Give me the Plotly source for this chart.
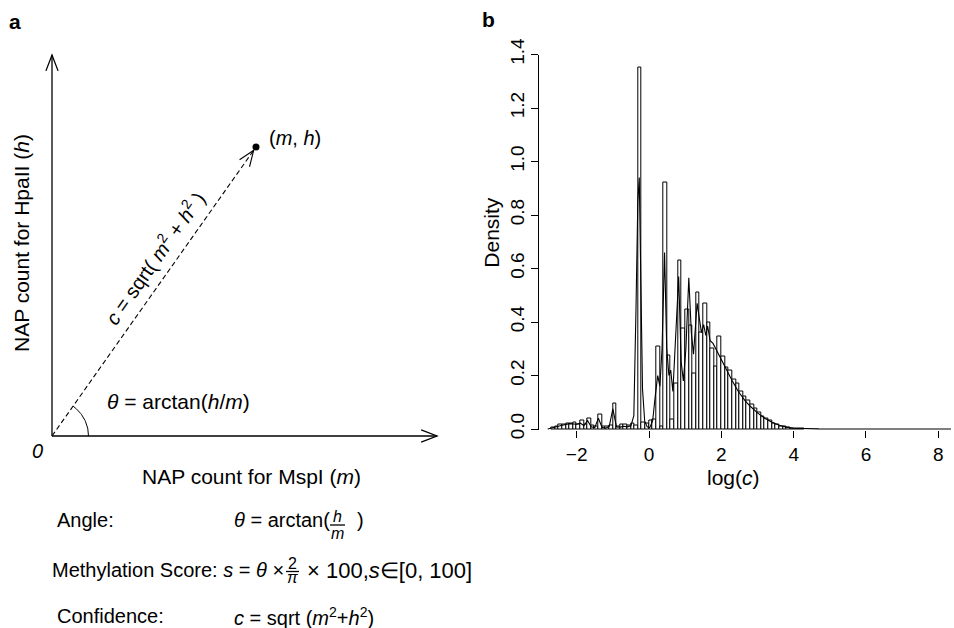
import numpy as np
import plotly.graph_objects as go

FONT = "Liberation Sans, Arial, Helvetica, sans-serif"
W, H = 954, 628

# ---------------- Panel b data: histogram of log(c) ----------------
bin_start = -2.7
bin_width = 0.1
hist_density = [
    0.005, 0.010, 0.015, 0.018, 0.020, 0.020, 0.025, 0.018, 0.030, 0.018,
    0.040, 0.012, 0.010, 0.055, 0.010, 0.008, 0.012, 0.095, 0.010, 0.015,
    0.015, 0.012, 0.020, 0.012,
    1.350, 0.025, 0.020, 0.030, 0.035, 0.310, 0.010, 0.920, 0.275, 0.034,
    0.170, 0.630, 0.375,
    0.446, 0.387, 0.206, 0.510, 0.360, 0.470, 0.400, 0.300, 0.234, 0.346,
    0.270, 0.230, 0.220, 0.184, 0.170, 0.140, 0.120, 0.105, 0.090, 0.075,
    0.060, 0.048, 0.038, 0.030, 0.022, 0.016, 0.011, 0.008, 0.005, 0.003,
    0.002, 0.001, 0.001,
]
bin_centers = [bin_start + bin_width * (i + 0.5) for i in range(len(hist_density))]

# kernel density curve
dens_x = [-2.8, -2.6, -2.4, -2.2, -2.0, -1.9, -1.8, -1.7, -1.6, -1.5, -1.4, -1.3,
          -1.2, -1.1, -1.0, -0.9, -0.8, -0.7, -0.6, -0.5, -0.42, -0.36, -0.31,
          -0.27, -0.23, -0.18, -0.12, -0.05, 0.02, 0.1, 0.17, 0.24, 0.3, 0.36,
          0.43, 0.49, 0.55, 0.6, 0.66, 0.73, 0.82, 0.89, 0.95, 1.02, 1.1, 1.17,
          1.23, 1.33, 1.45, 1.51, 1.57, 1.62, 1.69, 1.77, 1.88, 2.0, 2.15, 2.3,
          2.47, 2.66, 2.8, 3.0, 3.2, 3.4, 3.6, 3.8, 4.0, 4.3, 4.7, 5.5, 8.35]
dens_y = [0.0, 0.008, 0.014, 0.02, 0.018, 0.022, 0.012, 0.032, 0.008, 0.005, 0.04,
          0.006, 0.003, 0.01, 0.075, 0.008, 0.007, 0.01, 0.008, 0.012, 0.05, 0.45,
          0.85, 0.94, 0.6, 0.15, 0.03, 0.008, 0.005, 0.03, 0.12, 0.20, 0.16, 0.30,
          0.66, 0.30, 0.20, 0.22, 0.14, 0.32, 0.57, 0.25, 0.18, 0.30, 0.565, 0.36,
          0.28, 0.47, 0.36, 0.39, 0.35, 0.385, 0.33, 0.32, 0.29, 0.26, 0.22, 0.18,
          0.14, 0.105, 0.085, 0.06, 0.04, 0.025, 0.014, 0.007, 0.003, 0.001,
          0.0003, 0.0, 0.0]

x_ticks = [-2, 0, 2, 4, 6, 8]
x_ticklabels = ["−2", "0", "2", "4", "6", "8"]
y_ticks = [0.0, 0.2, 0.4, 0.6, 0.8, 1.0, 1.2, 1.4]
y_ticklabels = ["0.0", "0.2", "0.4", "0.6", "0.8", "1.0", "1.2", "1.4"]

# ---------------- Panel a diagram geometry ----------------
M_VAL, H_VAL = 204, 289          # the point (m, h)
X_AXIS_LEN, Y_AXIS_LEN = 385, 381
ARC_R = 36.5
HEAD_LEN, HEAD_HALF_ANGLE = 17, np.radians(21)

PA_WIDTH = 505                   # pixel width of panel a area
ORIGIN_PX = (52, 436)            # origin of the diagram in pixels


def ppx(x):
    return x / W


def ppy(y):
    return 1 - y / H


def head_path(tip, direction):
    d = np.array(direction, float)
    d = d / np.linalg.norm(d)
    pts = []
    for s in (1, -1):
        a = s * HEAD_HALF_ANGLE
        r = np.array([[np.cos(a), -np.sin(a)], [np.sin(a), np.cos(a)]])
        back = -(r @ d) * HEAD_LEN
        pts.append(np.array(tip) + back)
    return "M {:.2f} {:.2f} L {:.2f} {:.2f} L {:.2f} {:.2f}".format(
        pts[0][0], pts[0][1], tip[0], tip[1], pts[1][0], pts[1][1])


fig = go.Figure()

# ---- panel b traces
fig.add_trace(go.Bar(x=bin_centers, y=hist_density, width=bin_width,
                     marker=dict(color="white", line=dict(color="black", width=1)),
                     xaxis="x", yaxis="y", hoverinfo="skip"))
fig.add_trace(go.Scatter(x=dens_x, y=dens_y, mode="lines",
                         line=dict(color="black", width=1.1),
                         xaxis="x", yaxis="y", hoverinfo="skip"))

# ---- panel a traces
theta = np.arctan2(H_VAL, M_VAL)
arc_t = np.linspace(0, theta, 40)
fig.add_trace(go.Scatter(x=ARC_R * np.cos(arc_t), y=ARC_R * np.sin(arc_t), mode="lines",
                         line=dict(color="black", width=1), xaxis="x2", yaxis="y2",
                         hoverinfo="skip"))
fig.add_trace(go.Scatter(x=[M_VAL], y=[H_VAL], mode="markers",
                         marker=dict(color="black", size=7), xaxis="x2", yaxis="y2",
                         hoverinfo="skip"))

shapes = []
shapes.append(dict(type="line", xref="x2", yref="y2", x0=0, y0=0, x1=0, y1=Y_AXIS_LEN,
                   line=dict(color="black", width=1.3)))
shapes.append(dict(type="path", xref="x2", yref="y2",
                   path=head_path((0, Y_AXIS_LEN), (0, 1)), line=dict(color="black", width=1.3)))
shapes.append(dict(type="line", xref="x2", yref="y2", x0=0, y0=0, x1=X_AXIS_LEN, y1=0,
                   line=dict(color="black", width=1.3)))
shapes.append(dict(type="path", xref="x2", yref="y2",
                   path=head_path((X_AXIS_LEN, 0), (1, 0)), line=dict(color="black", width=1.3)))
u = np.array([M_VAL, H_VAL], float) / np.hypot(M_VAL, H_VAL)
tip = np.array([M_VAL, H_VAL]) - 4 * u
shapes.append(dict(type="line", xref="x2", yref="y2", x0=0, y0=0, x1=tip[0], y1=tip[1],
                   line=dict(color="black", width=1.1, dash="5px,3px")))
shapes.append(dict(type="path", xref="x2", yref="y2",
                   path=head_path(tuple(tip), tuple(u)), line=dict(color="black", width=1.1)))

# fraction bars
shapes.append(dict(type="line", xref="x2", yref="y2", x0=278, y0=-89, x1=293, y1=-89,
                   line=dict(color="black", width=1.3)))
shapes.append(dict(type="line", xref="x2", yref="y2", x0=234, y0=-135.5, x1=247, y1=-135.5,
                   line=dict(color="black", width=1.3)))

ann = []


def a2(x, y, text, size=20, xanchor="left", angle=0, yanchor="middle"):
    ann.append(dict(x=x, y=y, xref="x2", yref="y2", text=text, showarrow=False,
                    xanchor=xanchor, yanchor=yanchor, textangle=angle,
                    font=dict(family=FONT, size=size, color="black")))


def ap(x, y, text, size=20, xanchor="center", angle=0):
    ann.append(dict(x=ppx(x), y=ppy(y), xref="paper", yref="paper", text=text,
                    showarrow=False, xanchor=xanchor, yanchor="middle", textangle=angle,
                    font=dict(family=FONT, size=size, color="black")))


a2(-37, 415, "<b>a</b>", size=21, xanchor="center")
a2(215, 298, "(<i>m</i>, <i>h</i>)", size=20)
a2(-31, 193, "NAP count for HpaII (<i>h</i>)", size=21, xanchor="center", angle=-90)
a2(199, -40, "NAP count for MspI (<i>m</i>)", size=21, xanchor="center")
a2(-15, -15, "<i>0</i>", size=20, xanchor="center")
a2(53, 35, "<i>θ</i> = arctan(<i>h</i>/<i>m</i>)", size=21)
a2(101.5, 179, "<i>c</i> = sqrt( <i>m</i><sup>2</sup> + <i>h</i><sup>2</sup> )", size=20,
   xanchor="center", angle=-np.degrees(theta))

# formulas
a2(3, -84, "Angle:", size=20)
a2(180, -84, "<i>θ</i> = arctan(", size=20)
a2(285.5, -80.5, "<i>h</i>", size=16, xanchor="center")
a2(285.5, -97, "<i>m</i>", size=16, xanchor="center")
a2(303, -84, ")", size=20)
a2(-2, -134, "Methylation Score: <i>s</i> = <i>θ</i> ×", size=20)
a2(240.5, -127.5, "2", size=16, xanchor="center")
a2(240.5, -141, "<i>π</i>", size=16, xanchor="center")
a2(253, -134, "× 100,<i>s</i>∈[0, 100]", size=22, xanchor="left")
a2(3, -180, "Confidence:", size=20)
a2(180, -180, "<i>c</i> = sqrt (<i>m</i><sup>2</sup>+<i>h</i><sup>2</sup>)", size=20)

# panel b labels
ap(488, 19, "<b>b</b>", size=21)
ap(491.7, 232, "Density", size=21, angle=-90)
ap(733, 477, "log(<i>c</i>)", size=21)

# layout geometry (pixels)
PB_LEFT, PB_RIGHT = 539.3, 954
PB_TOP, PB_BOTTOM = 54.5, 430
X0_PX, X8_PX = 576.7, 938.3
pxu = (X8_PX - X0_PX) / 10.0
xr = [-2 - (X0_PX - PB_LEFT) / pxu, 8 + (PB_RIGHT - X8_PX) / pxu]

fig.update_layout(
    width=W, height=H,
    margin=dict(l=0, r=0, t=0, b=0, pad=0, autoexpand=False),
    autosize=False,
    plot_bgcolor="white", paper_bgcolor="white", showlegend=False, bargap=0,
    font=dict(family=FONT, color="black"),
    xaxis=dict(domain=[PB_LEFT / W, PB_RIGHT / W], range=xr, anchor="y",
               automargin=False,
               showgrid=False, zeroline=False, showline=False,
               ticks="outside", ticklen=7, tickwidth=1, tickcolor="black",
               tickvals=x_ticks, ticktext=x_ticklabels,
               tickfont=dict(family=FONT, size=19, color="black")),
    yaxis=dict(domain=[1 - PB_BOTTOM / H, 1 - PB_TOP / H], range=[-0.00375, 1.4],
               anchor="x", automargin=False, showgrid=False, zeroline=False, showline=True,
               linecolor="black", linewidth=1,
               ticks="outside", ticklen=7, tickwidth=1, tickcolor="black",
               tickvals=y_ticks, ticktext=y_ticklabels, tickangle=-90,
               tickfont=dict(family=FONT, size=19, color="black")),
    xaxis2=dict(domain=[0, PA_WIDTH / W], range=[-ORIGIN_PX[0], PA_WIDTH - ORIGIN_PX[0]],
                visible=False, anchor="y2", automargin=False, fixedrange=True),
    yaxis2=dict(domain=[0, 1], range=[-(H - ORIGIN_PX[1]), ORIGIN_PX[1]], visible=False,
                anchor="x2", automargin=False, fixedrange=True),
    shapes=shapes, annotations=ann,
)

fig.write_html("out.html", config={"responsive": False, "displayModeBar": False},
               post_script="document.body.style.margin='0px';document.body.style.padding='0px';")
